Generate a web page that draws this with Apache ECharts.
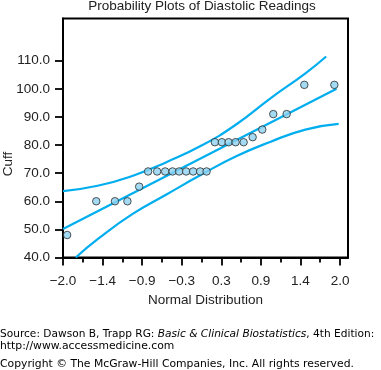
<!DOCTYPE html>
<html><head><meta charset="utf-8">
<script src="https://cdn.jsdelivr.net/npm/echarts@6/dist/echarts.min.js"></script>
<style>html,body{margin:0;padding:0;background:#fff}#c{width:381px;height:370px}</style>
</head><body><div id="c"></div>
<script>
// Observed readings: [normal quantile, cuff reading]
const points = [
  [-1.94, 48], [-1.52, 60], [-1.25, 60], [-1.07, 60], [-0.90, 65.2],
  [-0.771, 70.6], [-0.641, 70.6], [-0.525, 70.6], [-0.418, 70.6], [-0.323, 70.6],
  [-0.222, 70.6], [-0.121, 70.6], [-0.019, 70.6], [0.073, 70.6],
  [0.193, 81], [0.294, 81], [0.391, 81], [0.492, 81], [0.608, 81],
  [0.738, 82.8], [0.877, 85.5], [1.036, 91], [1.229, 91], [1.484, 101.4], [1.918, 101.4]
];
const fitLine = [[-2.0, 50.1], [1.95, 100.0]];
const upperBand = [[-2.0, 63.6], [-1.5, 65.5], [-1.0, 69.0], [-0.5, 74.0], [0.0, 79.8], [0.5, 87.3], [1.0, 96.7], [1.5, 105.5], [1.8, 111.5]];
const lowerBand = [[-1.816, 40], [-1.5, 46.5], [-1.0, 55.4], [-0.5, 62.5], [0.0, 69.5], [0.5, 76.0], [1.0, 81.2], [1.5, 85.5], [1.98, 87.5]];
const yTickValues = [40, 50, 60, 70, 80, 90, 100, 110];
const xMajorTicks = [-2, -10/7, -6/7, -2/7, 2/7, 6/7, 10/7, 2];
const xTickLabels = ['\u22122.0', '\u22121.4', '\u22120.9', '\u22120.3', '0.3', '0.9', '1.4', '2.0'];
const xMinorTicks = [-12/7, -8/7, -4/7, 0, 4/7, 8/7, 12/7];

const FONT = "'Liberation Sans', Arial, sans-serif";
const FOOT = "'DejaVu Sans', Verdana, sans-serif";
const LINE = '#00aeef';
const chart = echarts.init(document.getElementById('c'));
function xLabel(v) {
  let best = 0, bd = 1e9;
  xMajorTicks.forEach((t, i) => { const d = Math.abs(t - v); if (d < bd) { bd = d; best = i; } });
  return bd < 1e-6 ? xTickLabels[best] : '';
}
chart.setOption({
  animation: false,
  title: {
    text: 'Probability Plots of Diastolic Readings',
    left: 202, top: -1, padding: 0, textAlign: 'center',
    textStyle: { fontFamily: FONT, fontSize: 13.5, fontWeight: 'normal', color: '#222' }
  },
  grid: { left: 63, right: 33, top: 18.5, bottom: 112.5, show: true, borderColor: '#000', borderWidth: 2, containLabel: false, outerBoundsMode: 'none' },
  xAxis: [{
    type: 'value', min: -2, max: 2.115,
    name: 'Normal Distribution', nameLocation: 'middle', nameGap: 36, nameMoveOverlap: false,
    nameTextStyle: { fontFamily: FONT, fontSize: 13.5, color: '#222' },
    axisLine: { show: true, onZero: false, lineStyle: { color: '#000', width: 2 } },
    axisTick: { show: true, length: 8, customValues: xMajorTicks, lineStyle: { color: '#000', width: 1.8 } },
    axisLabel: { show: true, customValues: xMajorTicks, margin: 17, formatter: xLabel, fontFamily: FONT, fontSize: 13.5, color: '#222' },
    splitLine: { show: false }
  }, {
    type: 'value', min: -2, max: 2.115, position: 'bottom',
    axisLine: { show: false, onZero: false },
    axisTick: { show: true, length: 5, customValues: xMinorTicks, lineStyle: { color: '#000', width: 1.8 } },
    axisLabel: { show: false },
    splitLine: { show: false }
  }],
  yAxis: {
    type: 'value', min: 40, max: 125,
    name: 'Cuff', nameLocation: 'middle', nameGap: 48, nameRotate: 90, nameMoveOverlap: false,
    nameTextStyle: { fontFamily: FONT, fontSize: 13.5, color: '#222', padding: [0, 52, 0, 0] },
    axisLine: { show: true, onZero: false, lineStyle: { color: '#000', width: 2 } },
    axisTick: { show: true, length: 8, customValues: yTickValues, lineStyle: { color: '#000', width: 1.8 } },
    axisLabel: { show: true, customValues: yTickValues, margin: 13, formatter: v => v.toFixed(1), fontFamily: FONT, fontSize: 13.5, color: '#222' },
    splitLine: { show: false }
  },
  series: [
    { type: 'line', data: upperBand, smooth: true, showSymbol: false, symbol: 'none', lineStyle: { color: LINE, width: 2.2 }, z: 2 },
    { type: 'line', data: fitLine, showSymbol: false, symbol: 'none', lineStyle: { color: LINE, width: 2.2 }, z: 2 },
    { type: 'line', data: lowerBand, smooth: true, showSymbol: false, symbol: 'none', lineStyle: { color: LINE, width: 2.2 }, z: 2 },
    { type: 'scatter', data: points, symbol: 'circle', symbolSize: 7.5, itemStyle: { color: '#8dd2f0', borderColor: '#2a2a2a', borderWidth: 1 }, z: 5 }
  ],
  graphic: [
    { type: 'text', left: 0, top: 329, style: { rich: { n: { fontFamily: FOOT, fontSize: 10.6, fill: '#000' }, it: { fontFamily: FOOT, fontSize: 10.6, fontStyle: 'italic', fill: '#000' } }, text: '{n|Source: Dawson B, Trapp RG: }{it|Basic & Clinical Biostatistics}{n|, 4th Edition:}' } },
    { type: 'text', left: 0, top: 341, style: { text: 'http://www.accessmedicine.com', fontFamily: FOOT, fontSize: 10.8, fill: '#000' } },
    { type: 'text', left: 0, top: 359, style: { text: 'Copyright \u00a9 The McGraw-Hill Companies, Inc. All rights reserved.', fontFamily: FOOT, fontSize: 10.8, fill: '#000' } }
  ]
});
</script>
</body></html>
